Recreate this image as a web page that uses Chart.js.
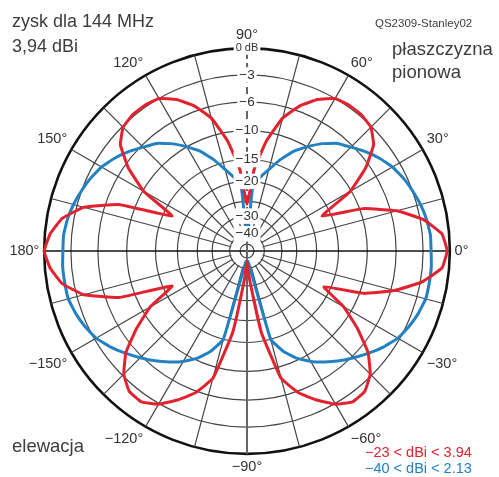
<!DOCTYPE html>
<html>
<head>
<meta charset="utf-8">
<script src="https://cdn.jsdelivr.net/npm/chart.js@4.4.1/dist/chart.umd.min.js"></script>
<style>
  html, body { margin: 0; padding: 0; background: #fff; }
  #wrap { width: 499px; height: 477px; }
</style>
</head>
<body>
<div id="wrap"><canvas id="polar"></canvas></div>
<script>
// elevation angle (deg), clockwise from the zenith in 5 deg steps
var angles = [90, 85, 80, 75, 70, 65, 60, 55, 50, 45, 40, 35, 30, 25, 20, 15, 10, 5, 0,
    -5, -10, -15, -20, -25, -30, -35, -40, -45, -50, -55, -60, -65, -70, -75, -80, -85, -90,
    -95, -100, -105, -110, -115, -120, -125, -130, -135, -140, -145, -150, -155, -160, -165, -170, -175,
    180, 175, 170, 165, 160, 155, 150, 145, 140, 135, 130, 125, 120, 115, 110, 105, 100, 95];

// relative gain in dB (0 dB = 3.94 dBi)
var gainRed = [-26, -17.2, -11.5, -7.6, -5.4, -4.0, -3.0, -2.8, -2.8, -3.1, -4.2, -6.6, -10.2, -17, -9.5, -5.3, -2.6, -0.8, -0.3,
    -0.8, -2.8, -5.6, -9.5, -16.5, -11.5, -8.0, -5.0, -3.2, -2.2, -2.1, -2.9, -4.3, -5.8, -8.4, -17, -34, -44,
    -34, -17, -8.4, -5.8, -4.3, -2.9, -2.1, -2.2, -3.2, -5.0, -8.0, -11.5, -17, -7.8, -3.8, -1.7, -0.6,
    0, -0.6, -1.7, -3.8, -7.8, -17, -10.2, -6.6, -4.2, -3.1, -2.8, -2.8, -3.0, -4.0, -5.4, -7.6, -11.5, -17.2];

var gainBlue = [-44, -22, -18.8, -16.6, -14.0, -11.8, -10.0, -8.5, -7.2, -6.3, -5.4, -4.6, -3.9, -3.4, -3.0, -2.6, -2.3, -2.1, -2.1,
    -2.0, -2.0, -2.0, -2.3, -2.7, -3.2, -4.0, -4.9, -5.8, -6.8, -7.9, -9.0, -10.3, -12.3, -15, -40, -44, -44,
    -44, -40, -15, -12.3, -10.3, -9.0, -7.9, -6.8, -5.8, -4.9, -4.0, -3.2, -2.7, -2.3, -2.0, -2.0, -2.0,
    -2.1, -2.1, -2.3, -2.6, -3.0, -3.4, -3.9, -4.6, -5.4, -6.3, -7.2, -8.5, -10.0, -11.8, -14.0, -16.6, -18.8, -22];

// grid rings (dB) and their labels on the upper axis
var ringDb = [0, -3, -6, -10, -15, -20, -25, -30, -40, -46];
var ringLabels = ['0 dB', '\u22123', '\u22126', '\u221210', '\u221215', '\u221220', '', '\u221230', '\u221240', ''];

var seriesLabels = ['\u221223 < dBi < 3.94', '\u221240 < dBi < 2.13'];

var RED = '#e3222f';
var BLUE = '#2281c3';
var FONT = '"Liberation Sans", Arial, sans-serif';

// log-like radial scale of the diagram: dB -> fraction of outer radius
function dbToR(db) {
    var kDb = [0, -3, -6, -10, -15, -20, -25, -30, -40, -50];
    var kR = [1, 0.868, 0.735, 0.593, 0.451, 0.343, 0.245, 0.172, 0.085, 0];
    if (db >= 0) return 1;
    for (var i = 1; i < kDb.length; i++) {
        if (db >= kDb[i]) {
            var t = (db - kDb[i - 1]) / (kDb[i] - kDb[i - 1]);
            return kR[i - 1] + t * (kR[i] - kR[i - 1]);
        }
    }
    return 0;
}

var tickText = ringLabels.slice().reverse();

function angleText(a) {
    return (a < 0 ? '\u2212' + (-a) : a) + '\u00b0';
}

// keep the spokes out of the hub: clear inside the -40 ring, redraw hub ring and axes
var hub = {
    id: 'hub',
    beforeDatasetsDraw: function(chart) {
        var s = chart.scales.r;
        var ctx = chart.ctx;
        var x = s.xCenter, y = s.yCenter;
        var rIn = s.getDistanceFromCenterForValue(dbToR(-40)) - 1;
        var rHub = s.getDistanceFromCenterForValue(dbToR(-46));
        ctx.save();
        ctx.fillStyle = '#fff';
        ctx.beginPath();
        ctx.arc(x, y, rIn, 0, Math.PI * 2);
        ctx.fill();
        ctx.lineWidth = 1.2;
        ctx.strokeStyle = '#444';
        ctx.beginPath();
        ctx.arc(x, y, rHub, 0, Math.PI * 2);
        ctx.stroke();
        ctx.lineWidth = 1.5;
        ctx.strokeStyle = '#111';
        ctx.beginPath();
        ctx.moveTo(x - rIn, y);
        ctx.lineTo(x + rIn, y);
        ctx.stroke();
        ctx.lineWidth = 2;
        ctx.strokeStyle = '#666';
        ctx.beginPath();
        ctx.moveTo(x, y - rIn);
        ctx.lineTo(x, y + rIn);
        ctx.stroke();
        ctx.restore();
    }
};

// captions around the diagram
var captions = {
    id: 'captions',
    afterDraw: function(chart) {
        var ctx = chart.ctx;
        ctx.save();
        ctx.textAlign = 'left';
        ctx.textBaseline = 'alphabetic';
        ctx.fillStyle = '#3c3c3c';
        ctx.font = '18px ' + FONT;
        ctx.fillText('zysk dla 144 MHz', 12, 27);
        ctx.fillText('3,94 dBi', 12, 52);
        ctx.font = '18.5px ' + FONT;
        ctx.fillText('p\u0142aszczyzna', 392, 55);
        ctx.fillText('pionowa', 392, 78);
        ctx.fillText('elewacja', 12, 452);
        ctx.font = '11.5px ' + FONT;
        ctx.fillText('QS2309-Stanley02', 375, 27);
        ctx.font = '14.5px ' + FONT;
        ctx.fillStyle = RED;
        ctx.fillText(chart.data.datasets[0].label, 365, 457);
        ctx.fillStyle = BLUE;
        ctx.fillText(chart.data.datasets[1].label, 365, 473);
        ctx.restore();
    }
};

new Chart(document.getElementById('polar'), {
    type: 'radar',
    data: {
        labels: angles,
        datasets: [{
            label: seriesLabels[0],
            data: gainRed.map(dbToR),
            borderColor: RED,
            borderWidth: 3,
            fill: false,
            pointRadius: 0,
            tension: 0.1
        }, {
            label: seriesLabels[1],
            data: gainBlue.map(dbToR),
            borderColor: BLUE,
            borderWidth: 3,
            fill: false,
            pointRadius: 0,
            tension: 0.1
        }]
    },
    options: {
        responsive: true,
        maintainAspectRatio: false,
        animation: false,
        layout: {
            padding: { top: 26, bottom: -18, left: -10, right: 12 }
        },
        plugins: {
            legend: { display: false },
            tooltip: { enabled: false }
        },
        scales: {
            r: {
                min: 0,
                max: 1,
                startAngle: 0,
                afterBuildTicks: function(scale) {
                    scale.ticks = [{ value: 0 }].concat(ringDb.slice().reverse().map(function(d) {
                        return { value: dbToR(d) };
                    }));
                },
                grid: {
                    circular: true,
                    color: function(c) { return c.tick && c.tick.value === 1 ? '#111' : '#444'; },
                    lineWidth: function(c) { return c.tick && c.tick.value === 1 ? 2.6 : 1.2; }
                },
                angleLines: {
                    color: function(c) {
                        if (c.index === 18 || c.index === 54) return '#111';
                        if (c.index === 0 || c.index === 36) return '#666';
                        return '#444';
                    },
                    lineWidth: function(c) {
                        if (c.index % 3 !== 0) return 0;
                        if (c.index === 18 || c.index === 54) return 1.5;
                        if (c.index === 0 || c.index === 36) return 2;
                        return 1.2;
                    },
                    borderDash: function(c) { return c.index === 0 ? [8, 4] : []; }
                },
                pointLabels: {
                    display: true,
                    padding: -3,
                    color: '#333',
                    font: { family: FONT, size: 14.5 },
                    callback: function(label, index) {
                        return index % 6 === 0 ? angleText(label) : '';
                    }
                },
                ticks: {
                    z: 1,
                    color: '#333',
                    font: function(c) {
                        return { family: FONT, size: c.tick && c.tick.value === 1 ? 11 : 13.5 };
                    },
                    showLabelBackdrop: function(c) { return !!(c.tick && c.tick.label); },
                    backdropColor: '#fff',
                    backdropPadding: { x: 2, y: 1 },
                    callback: function(value, index) {
                        return index === 0 ? '' : tickText[index - 1];
                    }
                }
            }
        }
    },
    plugins: [hub, captions]
});
</script>
</body>
</html>
